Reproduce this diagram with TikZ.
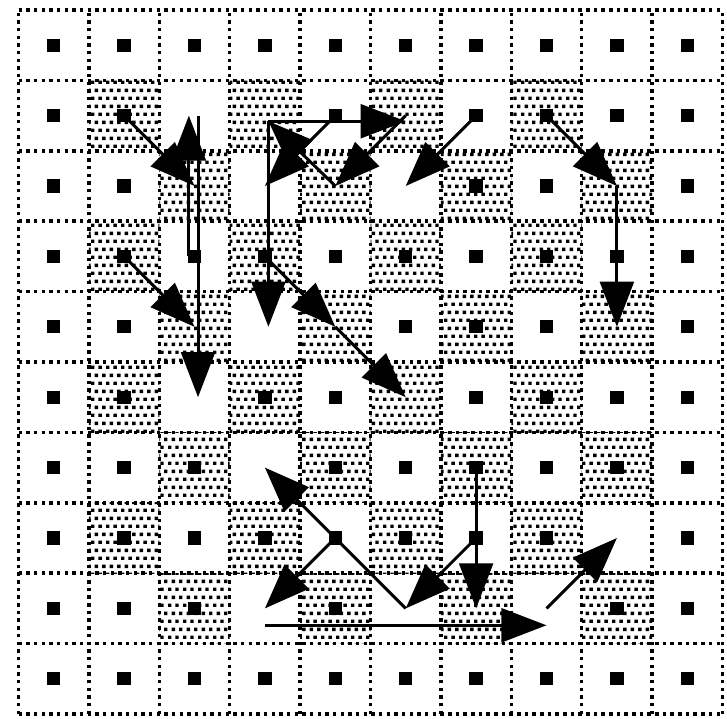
\documentclass[tikz,border=0pt]{standalone}
\usetikzlibrary{arrows.meta,patterns}

% stipple for the shaded squares
\pgfdeclarepatternformonly{stipple}{\pgfqpoint{0pt}{0pt}}{\pgfqpoint{6.2pt}{6.4pt}}{\pgfqpoint{6.2pt}{6.4pt}}{%
  \pgfpathrectangle{\pgfqpoint{0pt}{0pt}}{\pgfqpoint{1.4pt}{1.4pt}}%
  \pgfpathrectangle{\pgfqpoint{3.1pt}{0pt}}{\pgfqpoint{1.4pt}{1.4pt}}%
  \pgfpathrectangle{\pgfqpoint{1.55pt}{3.2pt}}{\pgfqpoint{1.4pt}{1.4pt}}%
  \pgfpathrectangle{\pgfqpoint{4.65pt}{3.2pt}}{\pgfqpoint{1.4pt}{1.4pt}}%
  \pgfusepath{fill}}

\begin{document}
\begin{tikzpicture}[x=1cm, y=1cm,
  gridline/.style={line width=1.4pt, dash pattern=on 1.4pt off 1.7pt},
  cellpt/.style={rectangle, fill=black, minimum size=0.19cm, inner sep=0pt},
  move/.style={line width=1.2pt, -{Triangle[length=0.64cm, width=0.48cm]}}]

% frame of the picture
\useasboundingbox (-0.263, 0.142) rectangle (10.064, -10.057);

% shaded squares, checkerboard inside the border
\foreach \x in {1,3,5,7}
  \foreach \y in {1,3,5,7} {
    \fill[pattern=stipple] (\x,-\y) rectangle ++(1,-1);
    \fill[pattern=stipple] (\x+1,-\y-1) rectangle ++(1,-1);
  }

% dotted grid
\draw[gridline] (0,-10) grid (10,0);

% square centres
\foreach \x in {0,...,9}
  \foreach \y in {0,...,9}
    \coordinate (c-\x-\y) at (\x+0.5, -\y-0.5);

% squares under an arrow tip get no dot
\foreach \tp in {2-2,2-1,2-5,2-4,3-2,3-1,5-1,3-4,4-2,5-2,8-2,8-4,4-4,5-5,3-6,3-8,5-8,6-8,7-8,8-7}
  {\expandafter\gdef\csname tip\tp\endcsname{}}

\foreach \x in {0,...,9}
  \foreach \y in {0,...,9} {
    \ifcsname tip\x-\y\endcsname\else
      \node[cellpt] (d-\x-\y) at (c-\x-\y) {};
    \fi
  }

% left group
\draw[move] (c-1-1) -- (c-2-2);
\draw[move] ([xshift=-0.08cm]c-2-3) -- ([xshift=-0.08cm]c-2-1);
\draw[move] ([xshift=0.05cm]c-2-1) -- ([xshift=0.05cm]c-2-5);
\draw[move] (c-1-3) -- (c-2-4);

% upper middle group
\draw[move] (c-4-1) -- (c-3-2);
\draw[move] (c-4-2) -- ([shift={(0.05,-0.08)}]c-3-1);
\draw[move] ([shift={(0.05,-0.08)}]c-3-1) -- ([yshift=-0.08cm]c-5-1);
\draw[move] ([shift={(0.05,-0.08)}]c-3-1) -- ([xshift=0.05cm]c-3-4);
\draw[move] (c-5-1) -- (c-4-2);
\draw[move] (c-6-1) -- (c-5-2);
\draw[move] (c-3-3) -- (c-4-4);
\draw[move] (c-4-4) -- (c-5-5);

% right group
\draw[move] (c-7-1) -- (c-8-2);
\draw[move] (c-8-2) -- (c-8-4);

% lower group
\draw[move] (c-5-8) -- (c-3-6);
\draw[move] (c-4-7) -- (c-3-8);
\draw[move] (c-6-7) -- (c-5-8);
\draw[move] (c-6-6) -- (c-6-8);
\draw[move] ([yshift=-0.24cm]c-3-8) -- ([yshift=-0.24cm]c-7-8);
\draw[move] (c-7-8) -- (c-8-7);

\end{tikzpicture}
\end{document}
